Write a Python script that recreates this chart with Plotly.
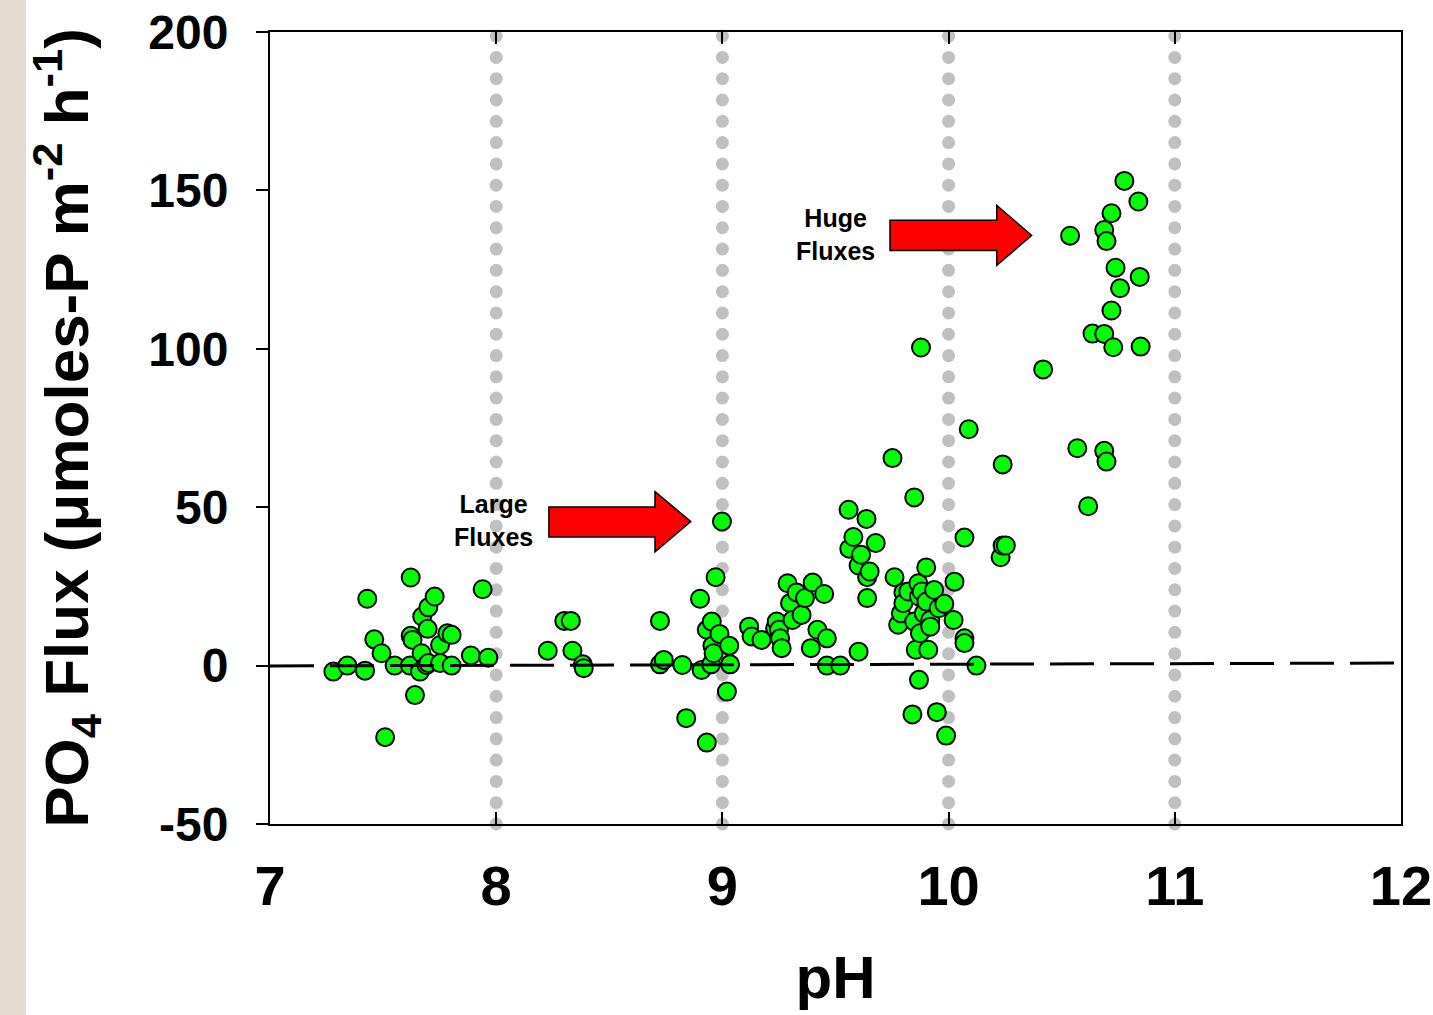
import numpy as np
import plotly.graph_objects as go

# ---- data ----
ph = [7.280, 7.342, 7.420, 7.430, 7.461, 7.493, 7.509, 7.551, 7.619, 7.622, 7.622, 7.630, 7.641,
      7.663, 7.670, 7.673, 7.692, 7.697, 7.700, 7.700, 7.728, 7.752, 7.752, 7.784, 7.803, 7.803,
      7.888, 7.940, 7.965,
      8.228, 8.301, 8.330, 8.337, 8.383, 8.387, 8.724, 8.724, 8.741, 8.823, 8.840, 8.901, 8.908,
      8.931, 8.931, 8.950, 8.953, 8.956, 8.961, 8.970, 8.987, 8.998, 9.020, 9.030, 9.034,
      9.118, 9.129, 9.173, 9.233, 9.240, 9.250, 9.255, 9.262, 9.288, 9.299, 9.310, 9.328, 9.350,
      9.365, 9.391, 9.399, 9.420, 9.450, 9.462, 9.462, 9.521,
      9.558, 9.561, 9.579, 9.602, 9.602, 9.613, 9.637, 9.640, 9.640, 9.651, 9.678,
      9.752, 9.761, 9.777, 9.789, 9.800, 9.800, 9.822, 9.840, 9.848, 9.848, 9.855, 9.866, 9.869,
      9.869, 9.873, 9.878, 9.881, 9.890, 9.901, 9.902, 9.910, 9.919, 9.919, 9.936, 9.948, 9.956,
      9.981, 9.989, 10.022, 10.026, 10.070, 10.070, 10.070, 10.089, 10.123,
      10.230, 10.239, 10.253, 10.239, 10.418, 10.537, 10.569, 10.617, 10.636, 10.688, 10.688,
      10.688, 10.698, 10.698, 10.720, 10.720, 10.728, 10.738, 10.758, 10.777, 10.839, 10.845, 10.849]

flux = [-1.9, 0.0, -1.6, 21.1, 8.3, 3.9, -22.6, 0.0, 0.0, 27.8, 9.4, 8.1, -9.3,
        -1.9, 3.9, 15.5, 0.2, 11.6, 18.4, 0.8, 21.8, 6.5, 0.8, 10.2, 9.7, 0.0,
        3.2, 24.1, 2.5,
        4.7, 14.1, 14.1, 4.7, 0.4, -0.8, 14.1, 0.4, 1.8, 0.2, -16.6, 21.1, -1.4,
        11.3, -24.3, 0.4, 13.9, 6.3, 3.9, 27.9, 10.0, 45.5, -8.2, 6.3, 0.4,
        12.3, 9.2, 8.1, 11.8, 13.9, 11.3, 8.6, 5.5, 26.0, 19.7, 14.4, 23.1, 16.0,
        21.3, 5.5, 26.2, 11.3, 22.6, 8.6, 0.0, 0.0,
        49.2, 36.9, 40.6, 31.6, 4.4, 35.0, 46.3, 27.9, 21.3, 29.7, 38.7,
        65.5, 27.9, 12.9, 16.5, 23.1, 19.7, 23.4, -15.4, 53.1, 13.9, 5.0, 26.0, 21.8,
        -4.5, 10.2, 100.4, 23.4, 16.5, 31.0, 20.2, 5.0, 14.4, 12.3, 23.9, -14.7, 18.1,
        19.5, -22.1, 14.4, 26.5, 40.4, 8.6, 7.1, 74.6, 0.0,
        34.2, 37.9, 37.9, 63.5, 93.5, 135.7, 68.6, 50.3, 104.8, 137.5, 104.7,
        67.8, 134.0, 64.4, 142.8, 112.1, 100.5, 125.6, 119.1, 153.0, 146.5, 122.7, 100.7]

x_ticks = [7, 8, 9, 10, 11, 12]
y_ticks = [-50, 0, 50, 100, 150, 200]
ref_ph = [8, 9, 10, 11]            # dotted reference lines
zero_line_x = [7, 12]
zero_line_y = [-0.1, 0.8]          # dashed baseline

# annotation arrows (data units): [x_left, x_headstart, x_tip, y_body_top, y_body_bot, y_head_top, y_head_bot, y_tip]
arrow_large = [8.233, 8.702, 8.860, 50.1, 40.6, 54.9, 35.9, 45.5]
arrow_huge = [9.741, 10.213, 10.367, 140.6, 131.0, 145.3, 126.3, 135.8]

FONT = "Liberation Sans, Arial, sans-serif"

fig = go.Figure()

# dotted grey reference lines drawn as round dots
dot_y = np.linspace(-50, 198.7, 38)
for xv in ref_ph:
    fig.add_trace(go.Scatter(
        x=[xv] * len(dot_y), y=dot_y, mode="markers",
        marker=dict(size=13, color="#C0C0C0", line=dict(width=0)),
        cliponaxis=False, hoverinfo="skip", showlegend=False))

fig.add_trace(go.Scatter(
    x=ph, y=flux, mode="markers",
    marker=dict(size=18, color="#00FF00", line=dict(color="black", width=2)),
    showlegend=False))


def arrow_path(a):
    xl, xh, xt, yt, yb, yht, yhb, ytip = a
    return (f"M {xl},{yt} L {xh},{yt} L {xh},{yht} L {xt},{ytip} "
            f"L {xh},{yhb} L {xh},{yb} L {xl},{yb} Z")


shapes = [
    dict(type="line", xref="x", yref="y", x0=zero_line_x[0], y0=zero_line_y[0],
         x1=zero_line_x[1], y1=zero_line_y[1],
         line=dict(color="black", width=3, dash="44px,16px"), layer="above"),
    dict(type="path", xref="x", yref="y", path=arrow_path(arrow_large),
         fillcolor="#FF0000", line=dict(color="black", width=1.5), layer="above"),
    dict(type="path", xref="x", yref="y", path=arrow_path(arrow_huge),
         fillcolor="#FF0000", line=dict(color="black", width=1.5), layer="above"),
    # beige strip at left edge
    dict(type="rect", xref="paper", yref="paper", x0=-270 / 1131, x1=-244 / 1131,
         y0=-191 / 792, y1=1 + 32 / 792, fillcolor="#E3DCCE", line=dict(width=0),
         layer="below"),
]

annotations = [
    dict(x=7.990, y=45.7, xref="x", yref="y", text="<b>Large<br>Fluxes</b>",
         showarrow=False, font=dict(family=FONT, size=25, color="black"), align="center"),
    dict(x=9.502, y=136.0, xref="x", yref="y", text="<b>Huge<br>Fluxes</b>",
         showarrow=False, font=dict(family=FONT, size=25, color="black"), align="center"),
]

fig.update_layout(
    width=1433, height=1015,
    margin=dict(l=270, r=32, t=32, b=191),
    paper_bgcolor="white", plot_bgcolor="white",
    shapes=shapes, annotations=annotations,
    font=dict(family=FONT, color="black"),
    xaxis=dict(
        range=[7, 12], tickvals=x_ticks, ticktext=[str(v) for v in x_ticks],
        showgrid=False, zeroline=False,
        showline=True, linecolor="black", linewidth=2, mirror="ticks",
        ticks="inside", ticklen=12, tickwidth=2, tickcolor="black",
        tickfont=dict(family=FONT, size=56, color="black", weight="bold"),
        ticklabelstandoff=12,
        title=dict(text="<b>pH</b>", font=dict(family=FONT, size=60, color="black"),
                   standoff=40),
        automargin=False,
    ),
    yaxis=dict(
        range=[-50, 200], tickvals=y_ticks, ticktext=[str(v) for v in y_ticks],
        showgrid=False, zeroline=False,
        showline=True, linecolor="black", linewidth=2, mirror=True,
        ticks="outside", ticklen=12, tickwidth=2, tickcolor="black",
        tickfont=dict(family=FONT, size=48, color="black", weight="bold"),
        ticklabelstandoff=18,
        title=dict(text="<b>PO<sub>4</sub> Flux (&mu;moles-P m<sup>-2</sup> h<sup>-1</sup>)</b>",
                   font=dict(family=FONT, size=62, color="black"), standoff=40),
        automargin=False,
    ),
)

fig.write_html("out.html")
